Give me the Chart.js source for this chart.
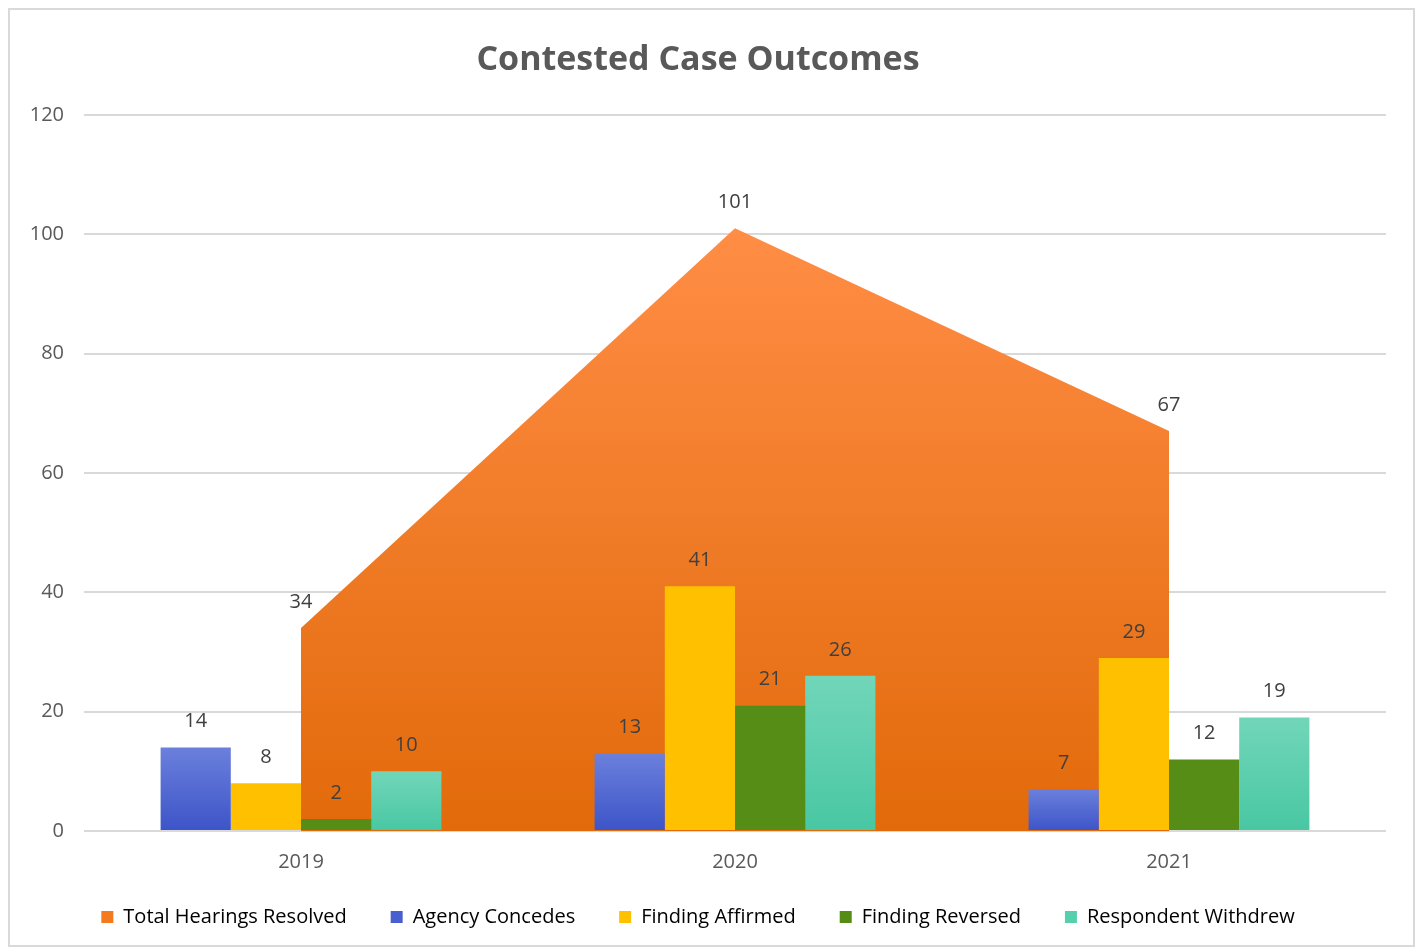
<!DOCTYPE html>
<html>
<head>
<meta charset="utf-8">
<script src="https://cdn.jsdelivr.net/npm/chart.js@4/dist/chart.umd.min.js"></script>
<style>
  body { margin: 0; background: #fff; }
  #wrap {
    position: absolute; left: 8px; top: 8px;
    width: 1403px; height: 935px;
    border: 2px solid #d9d9d9; background: #fff;
  }
</style>
</head>
<body>
<div id="wrap"><canvas id="caseChart"></canvas></div>
<script>
// data
const years = ["2019", "2020", "2021"];
const totalResolved = [34, 101, 67];
const agencyConcedes = [14, 13, 7];
const findingAffirmed = [8, 41, 29];
const findingReversed = [2, 21, 12];
const respondentWithdrew = [10, 26, 19];
const yTicks = [0, 20, 40, 60, 80, 100, 120];

const seriesNames = ["Total Hearings Resolved", "Agency Concedes", "Finding Affirmed", "Finding Reversed", "Respondent Withdrew"];
const legendColors = ["#f47a20", "#4a5fcf", "#ffc000", "#548c15", "#56cfad"];

const FONT = "'Open Sans', 'Noto Sans', sans-serif";

// per-bar top->bottom gradient
function barGradient(top, bottom) {
    return (ctx) => {
        const chart = ctx.chart;
        const y = chart.scales.y;
        if (!y || ctx.type !== "data" || !chart.chartArea) return bottom;
        const y0 = y.getPixelForValue(ctx.raw);
        const y1 = y.getPixelForValue(0);
        if (!isFinite(y0) || !isFinite(y1) || y0 === y1) return bottom;
        const g = chart.ctx.createLinearGradient(0, y0, 0, y1);
        g.addColorStop(0, top);
        g.addColorStop(1, bottom);
        return g;
    };
}

function areaGradient(ctx) {
    const chart = ctx.chart;
    const area = chart.chartArea;
    const y = chart.scales.y;
    if (!area || !y) return "#f47a20";
    const top = y.getPixelForValue(Math.max(...totalResolved));
    const g = chart.ctx.createLinearGradient(0, top, 0, area.bottom);
    g.addColorStop(0, "#ff8d45");
    g.addColorStop(1, "#e26a0a");
    return g;
}

// value labels above every point and bar
const valueLabels = {
    id: "valueLabels",
    afterDatasetsDraw(chart) {
        const c = chart.ctx;
        c.save();
        c.font = "20px " + FONT;
        c.fillStyle = "#404040";
        c.textAlign = "center";
        c.textBaseline = "middle";
        chart.data.datasets.forEach((ds, i) => {
            chart.getDatasetMeta(i).data.forEach((el, j) => {
                c.fillText(String(ds.data[j]), el.x, el.y - 26);
            });
        });
        c.restore();
    }
};

new Chart(document.getElementById("caseChart"), {
    type: "bar",
    data: {
        labels: years,
        datasets: [
            {
                type: "line",
                label: seriesNames[0],
                data: totalResolved,
                fill: "origin",
                backgroundColor: areaGradient,
                borderWidth: 0,
                pointRadius: 0,
                tension: 0,
                order: 1
            },
            { label: seriesNames[1], data: agencyConcedes, backgroundColor: barGradient("#6b80dc", "#3d54c8"), order: 0 },
            { label: seriesNames[2], data: findingAffirmed, backgroundColor: "#ffc000", order: 0 },
            { label: seriesNames[3], data: findingReversed, backgroundColor: "#568d16", order: 0 },
            { label: seriesNames[4], data: respondentWithdrew, backgroundColor: barGradient("#72d6b9", "#48c7a3"), order: 0 }
        ]
    },
    options: {
        responsive: true,
        maintainAspectRatio: false,
        animation: false,
        datasets: {
            bar: { barPercentage: 1, categoryPercentage: 0.647 }
        },
        layout: { padding: { left: 0, right: 27, top: 0, bottom: 8 } },
        plugins: {
            tooltip: { enabled: false },
            title: {
                display: true,
                text: "Contested Case Outcomes",
                color: "#595959",
                font: { family: FONT, size: 34, weight: "bold" },
                padding: { top: 30, bottom: 34 }
            },
            legend: {
                position: "bottom",
                labels: {
                    color: "#595959",
                    font: { family: FONT, size: 20 },
                    boxWidth: 12,
                    boxHeight: 12,
                    padding: 44,
                    generateLabels: () => seriesNames.map((n, i) => ({
                        text: n,
                        fillStyle: legendColors[i],
                        strokeStyle: legendColors[i],
                        lineWidth: 0,
                        datasetIndex: i
                    }))
                }
            }
        },
        scales: {
            x: {
                grid: { display: false },
                border: { display: false },
                ticks: { color: "#595959", font: { family: FONT, size: 20 }, padding: 11 },
                afterFit: (s) => {
                    s.height = 32;
                    // labels sit in the legend's top padding, so don't clip them to the axis box
                    s._computeLabelArea = () => null;
                }
            },
            y: {
                min: 0,
                max: 120,
                afterBuildTicks: (s) => { s.ticks = yTicks.map(v => ({ value: v })); },
                grid: { color: "#d9d9d9", lineWidth: 2, drawTicks: false },
                border: { display: false },
                ticks: { color: "#595959", font: { family: FONT, size: 20 }, padding: 20 },
                afterFit: (s) => { s.width = 74; }
            }
        }
    },
    plugins: [valueLabels]
});
</script>
</body>
</html>
